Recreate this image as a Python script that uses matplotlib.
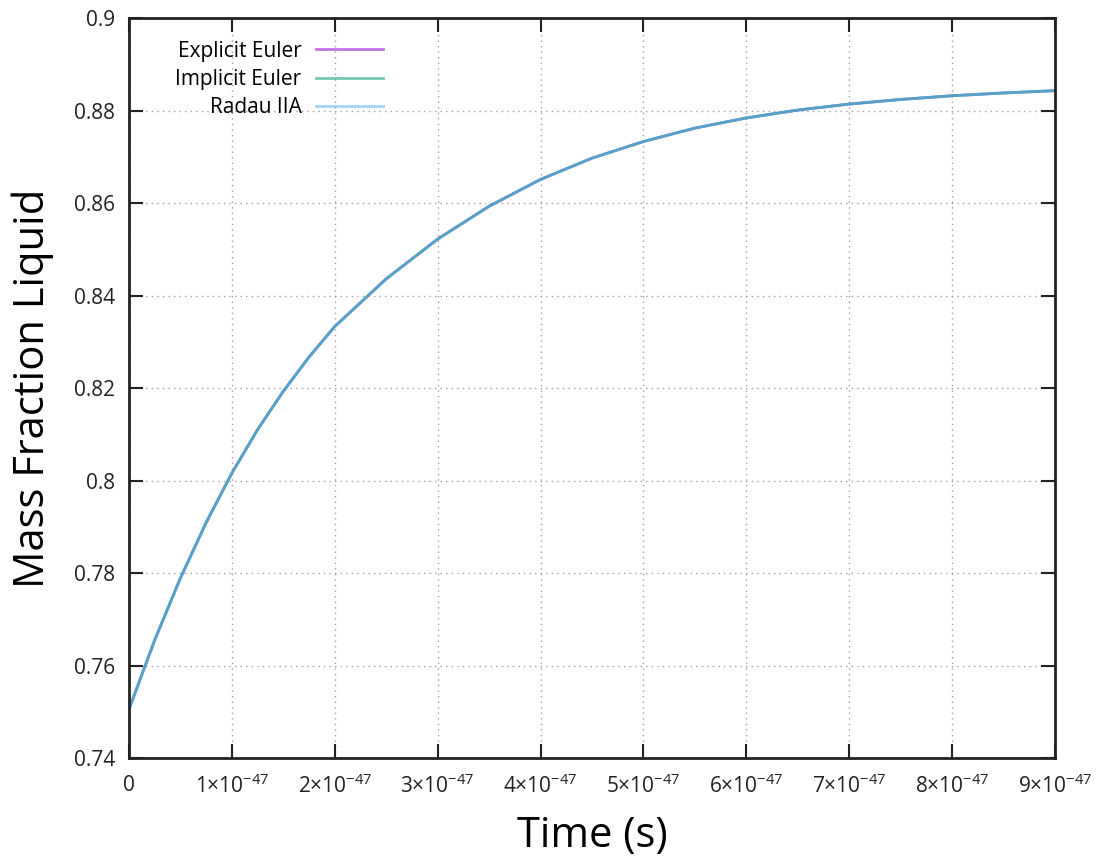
import matplotlib.pyplot as plt
from matplotlib.ticker import FuncFormatter, MultipleLocator

plt.rcParams['font.family'] = ['Open Sans', 'DejaVu Sans']
plt.rcParams['mathtext.default'] = 'regular'

# time in units of 1e-47 s
time = [0, 0.25, 0.5, 0.75, 1, 1.25, 1.5, 1.75, 2, 2.5, 3, 3.5, 4, 4.5,
        5, 5.5, 6, 6.5, 7, 7.5, 8, 8.5, 9]
explicit_euler = [0.7505, 0.7655, 0.7789, 0.7909, 0.8016, 0.8110, 0.8193,
                  0.8267, 0.8333, 0.8436, 0.8522, 0.8593, 0.8651, 0.8697,
                  0.8733, 0.8762, 0.8784, 0.8801, 0.8814, 0.8824, 0.8832,
                  0.8838, 0.8843]
implicit_euler = [0.7505, 0.7655, 0.7789, 0.7909, 0.8016, 0.8110, 0.8193,
                  0.8267, 0.8333, 0.8436, 0.8522, 0.8593, 0.8651, 0.8697,
                  0.8733, 0.8762, 0.8784, 0.8801, 0.8814, 0.8824, 0.8832,
                  0.8838, 0.8843]
radau_iia = [0.7505, 0.7655, 0.7789, 0.7909, 0.8016, 0.8110, 0.8193,
             0.8267, 0.8333, 0.8436, 0.8522, 0.8593, 0.8651, 0.8697,
             0.8733, 0.8762, 0.8784, 0.8801, 0.8814, 0.8824, 0.8832,
             0.8838, 0.8843]

fig = plt.figure(figsize=(11.08, 8.68), dpi=100)
ax = fig.add_axes([0.1164, 0.1267, 0.8357, 0.8525])

ax.plot(time, explicit_euler, color='#9400d3', alpha=0.55, lw=2, label='Explicit Euler')
ax.plot(time, implicit_euler, color='#009e73', alpha=0.55, lw=2, label='Implicit Euler')
ax.plot(time, radau_iia, color='#56b4e9', alpha=0.55, lw=2, label='Radau IIA')

ax.set_xlim(0, 9)
ax.set_ylim(0.74, 0.9)
ax.xaxis.set_major_locator(MultipleLocator(1))
ax.yaxis.set_major_locator(MultipleLocator(0.02))


def xfmt(v, pos):
    n = int(round(v))
    if n == 0:
        return '0'
    return r'$%d{\times}10^{-47}$' % n


def yfmt(v, pos):
    s = '%.2f' % v
    return s.rstrip('0').rstrip('.') if s.endswith('0') else s


ax.xaxis.set_major_formatter(FuncFormatter(xfmt))
ax.yaxis.set_major_formatter(FuncFormatter(yfmt))

ax.grid(True, color='#a0a0a0', linestyle=(0, (1, 3)), linewidth=1)
ax.tick_params(direction='in', length=10, width=1.5, top=True, right=True,
               labelsize=15, colors='#222222', pad=10)
ax.tick_params(axis='x', pad=12)
for sp in ax.spines.values():
    sp.set_linewidth(2)
    sp.set_color('#222222')

ax.set_xlabel('Time (s)', fontsize=30, labelpad=12)
ax.set_ylabel('Mass Fraction Liquid', fontsize=30, labelpad=14)

leg = ax.legend(loc='upper left', frameon=False, markerfirst=False,
                fontsize=15, handlelength=3.2, handletextpad=0.7,
                labelspacing=0.35, bbox_to_anchor=(0.03, 0.995))
for t in leg.get_texts():
    t.set_ha('right')

fig.savefig('out.png', dpi=100)
